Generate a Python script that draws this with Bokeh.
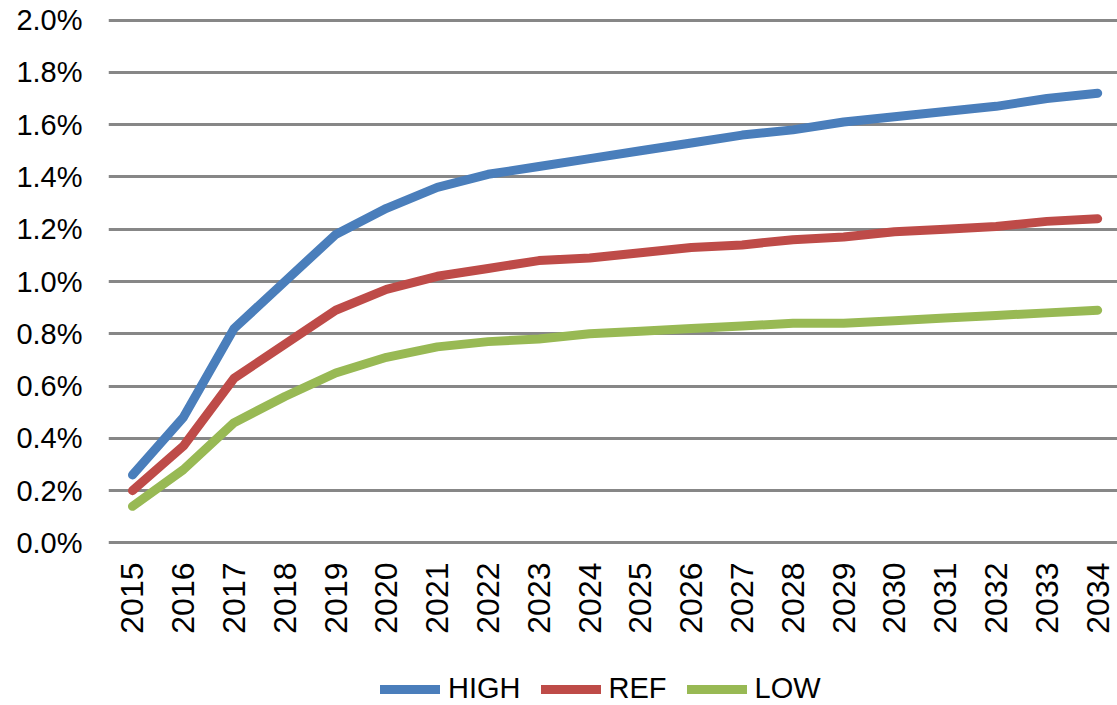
import math
from bokeh.plotting import figure
from bokeh.layouts import column
from bokeh.models import Range1d, FixedTicker, PrintfTickFormatter, Legend, LegendItem
from bokeh.embed import file_html
from bokeh.resources import INLINE

years = list(range(2015, 2035))
high = [0.26, 0.48, 0.82, 1.00, 1.18, 1.28, 1.36, 1.41, 1.44, 1.47,
        1.50, 1.53, 1.56, 1.58, 1.61, 1.63, 1.65, 1.67, 1.70, 1.72]
ref = [0.20, 0.37, 0.63, 0.76, 0.89, 0.97, 1.02, 1.05, 1.08, 1.09,
       1.11, 1.13, 1.14, 1.16, 1.17, 1.19, 1.20, 1.21, 1.23, 1.24]
low = [0.14, 0.28, 0.46, 0.56, 0.65, 0.71, 0.75, 0.77, 0.78, 0.80,
       0.81, 0.82, 0.83, 0.84, 0.84, 0.85, 0.86, 0.87, 0.88, 0.89]
y_ticks = [0.0, 0.2, 0.4, 0.6, 0.8, 1.0, 1.2, 1.4, 1.6, 1.8, 2.0]
series_names = ["HIGH", "REF", "LOW"]
colors = ["#4A7EBB", "#BE4B48", "#98B954"]
series = [high, ref, low]

FONT = "Liberation Sans"

p = figure(width=1117, height=638, output_backend="svg", toolbar_location=None,
           x_range=Range1d(2014.528, 2034.39), y_range=Range1d(-0.006, 2.006),
           min_border_left=108, min_border_right=0, min_border_top=18,
           min_border_bottom=94)
p.outline_line_color = None

for vals, c in zip(series, colors):
    p.line(years, vals, line_color=c, line_width=9, line_cap="round", line_join="round")

p.xgrid.grid_line_color = None
p.ygrid.ticker = FixedTicker(ticks=y_ticks)
p.ygrid.grid_line_color = "#878787"
p.ygrid.grid_line_width = 3

p.yaxis.ticker = FixedTicker(ticks=y_ticks)
p.yaxis.formatter = PrintfTickFormatter(format="%.1f%%")
p.yaxis.axis_line_color = None
p.yaxis.major_tick_line_color = None
p.yaxis.major_tick_out = 0
p.yaxis.major_tick_in = 0
p.yaxis.minor_tick_line_color = None
p.yaxis.major_label_standoff = 26
p.yaxis.major_label_text_font = FONT
p.yaxis.major_label_text_font_size = "29px"
p.yaxis.major_label_text_color = "black"

p.xaxis.ticker = FixedTicker(ticks=years)
p.xaxis.axis_line_color = None
p.xaxis.major_tick_line_color = None
p.xaxis.major_tick_out = 0
p.xaxis.major_tick_in = 0
p.xaxis.minor_tick_line_color = None
p.xaxis.major_label_orientation = math.pi / 2
p.xaxis.major_label_standoff = 18
p.xaxis.major_label_text_font = FONT
p.xaxis.major_label_text_font_size = "32px"
p.xaxis.major_label_text_color = "black"

# legend strip below the chart (series drawn out of view, only their legend entries show)
q = figure(width=1117, height=67, output_backend="svg", toolbar_location=None,
           x_range=Range1d(0, 1), y_range=Range1d(0, 1),
           min_border_left=0, min_border_right=0, min_border_top=0, min_border_bottom=0)
q.outline_line_color = None
q.axis.visible = False
q.grid.visible = False
leg_renderers = []
for vals, c in zip(series, colors):
    leg_renderers.append(q.line(years, vals, line_color=c, line_width=9, line_cap="round"))

legend = Legend(items=[LegendItem(label=n, renderers=[r]) for n, r in zip(series_names, leg_renderers)],
                orientation="horizontal", location=(272, 0),
                glyph_width=60, glyph_height=20, label_standoff=8, spacing=20,
                padding=0, margin=0,
                label_text_font=FONT, label_text_font_size="29px",
                label_text_color="black",
                border_line_alpha=0, background_fill_alpha=0)
q.add_layout(legend, "center")

layout = column(p, q, spacing=0)
open("out.html", "w").write(file_html(layout, INLINE))
